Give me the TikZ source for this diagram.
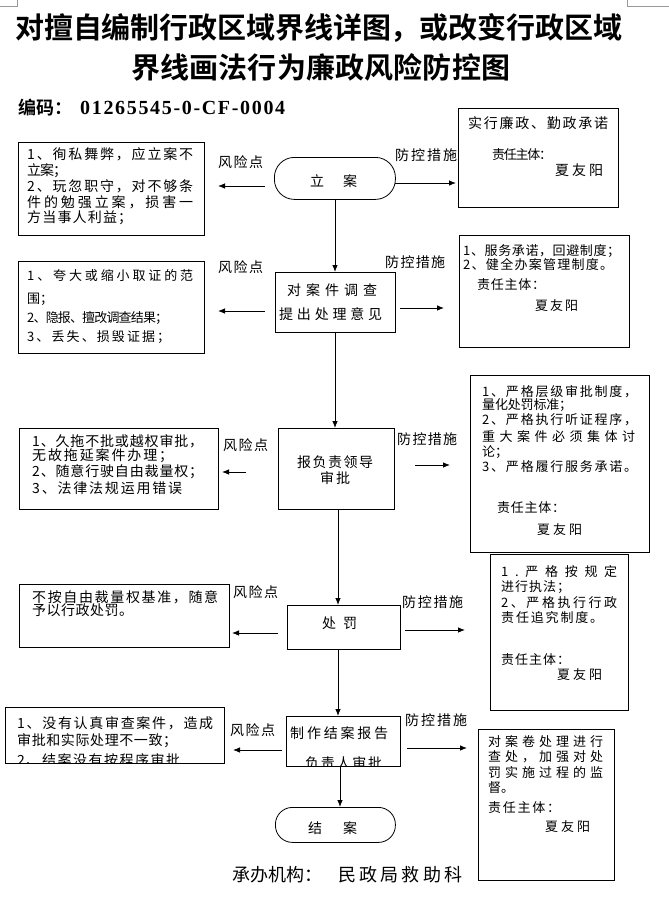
\documentclass[tikz,border=0pt]{standalone}
\usepackage{fontspec}
\setmainfont{Liberation Serif}
\newfontfamily\cjk{Noto Sans CJK SC}[BoldFont={Noto Sans CJK SC Bold}]
\usetikzlibrary{arrows.meta}
\def\jlsep{\hskip 0pt plus 1fil minus 1.5pt}
\def\jl#1{\ifx#1\relax\else\jlsep#1\expandafter\jl\fi}
\def\jlfirst#1{#1\jl}
\newcommand\jline[2]{\hbox to #1{\jlfirst#2\relax}}
\newcommand\tx[6][14]{\node[ln,font=\cjk\fontsize{#1}{#1}\selectfont] (#2) at (#3,#4) {\jline{#5pt}{#6}};}
\begin{document}
\begin{tikzpicture}[x=1pt,y=-1pt,
  bx/.style={draw,line width=0.8pt,inner sep=0pt,anchor=north west},
  ln/.style={inner sep=0pt,anchor=west},
  arr/.style={-{Latex[length=7pt,width=5.5pt]},line width=0.8pt},
  cornermark/.style={draw=black!40,line width=0.6pt}]
\useasboundingbox (0,0) rectangle (669,897);
\fill[white] (0,0) rectangle (669,897);
% page corner marks
\draw[cornermark] (0,6) -- (17,6) -- (17,0);
\draw[cornermark] (669,6) -- (627,6) -- (627,0);
% title
\node[ln,font=\cjk\bfseries\fontsize{29}{29}\selectfont] (title1) at (15,28) {\jline{607pt}{对擅自编制行政区域界线详图，或改变行政区域}};
\node[ln,font=\cjk\bfseries\fontsize{29}{29}\selectfont] (title2) at (131,67) {\jline{379pt}{界线画法行为廉政风险防控图}};
\node[ln,font=\cjk\bfseries\fontsize{18}{18}\selectfont] (code1) at (18,108) {编码：};
\node[ln,font=\bfseries\fontsize{20}{20}\selectfont] (code2) at (80,108) {\jline{205pt}{01265545-0-CF-0004}};
% boxes
\node[bx,minimum width=186pt,minimum height=93pt] (l1) at (18,142) {};
\node[bx,rounded corners=20pt,minimum width=121pt,minimum height=42pt] (c1) at (274,157) {};
\node[bx,minimum width=160pt,minimum height=99pt] (r1) at (458,108) {};
\node[bx,minimum width=186pt,minimum height=92pt] (l2) at (18,261) {};
\node[bx,minimum width=120pt,minimum height=60pt] (c2) at (275,272) {};
\node[bx,minimum width=170pt,minimum height=112pt] (r2) at (459,235) {};
\node[bx,minimum width=199pt,minimum height=81pt] (l3) at (19,428) {};
\node[bx,minimum width=116pt,minimum height=81pt] (c3) at (278,428) {};
\node[bx,minimum width=179pt,minimum height=177pt] (r3) at (470,375) {};
\node[bx,minimum width=210pt,minimum height=63pt] (l4) at (19,584) {};
\node[bx,minimum width=113pt,minimum height=44pt] (c4) at (287,605) {};
\node[bx,minimum width=138pt,minimum height=156pt] (r4) at (490,554) {};
\node[bx,minimum width=219pt,minimum height=56pt] (l5) at (5,707) {};
\node[bx,minimum width=114pt,minimum height=50pt] (c5) at (286,716) {};
\node[bx,minimum width=136pt,minimum height=151pt] (r5) at (478,729) {};
\node[bx,rounded corners=17pt,minimum width=120pt,minimum height=35pt] (c6) at (275,807) {};
% centre texts
\tx{c1a}{310}{181}{47}{立案}
\tx{c2a}{287}{290}{90}{对案件调查}
\tx{c2b}{279}{314}{103}{提出处理意见}
\tx{c3a}{297}{462}{76}{报负责领导}
\tx{c3b}{320}{478}{30}{审批}
\tx{c4a}{322}{623}{35}{处罚}
\tx{c5a}{290}{733}{98}{制作结案报告}
\begin{scope}
\clip (286.5,716.5) rectangle (399.5,765.5);
\tx{c5b}{305}{763}{77}{负责人审批}
\end{scope}
\tx{c6a}{308}{828}{49}{结案}
% L1
\tx{l1a}{27}{154}{166}{1、徇私舞弊，应立案不}
\tx{l1b}{27}{171}{40}{立案；}
\tx{l1c}{27}{186}{166}{2、玩忽职守，对不够条}
\tx{l1d}{27}{202}{166}{件的勉强立案，损害一}
\tx{l1e}{27}{218}{105}{方当事人利益；}
% R1
\tx{r1a}{468}{123}{140}{实行廉政、勤政承诺}
\tx[13]{r1b}{492}{155}{60}{责任主体：}
\tx{r1c}{555}{170}{48}{夏友阳}
% L2
\tx[13]{l2a}{27}{276}{166}{1、夸大或缩小取证的范}
\tx[13]{l2b}{27}{299}{26}{围；}
\tx[13]{l2c}{27}{318}{141}{2、隐报、擅改调查结果；}
\tx[13]{l2d}{27}{337}{143}{3、丢失、损毁证据；}
% R2
\tx[13]{r2a}{463}{251}{157}{1、服务承诺，回避制度；}
\tx[13]{r2b}{463}{265}{150}{2、健全办案管理制度。}
\tx[13]{r2c}{477}{285}{68}{责任主体：}
\tx[13]{r2d}{535}{306}{43}{夏友阳}
% L3
\tx{l3a}{32}{441}{171}{1、久拖不批或越权审批，}
\tx{l3b}{32}{456}{141}{无故拖延案件办理；}
\tx{l3c}{32}{472}{171}{2、随意行驶自由裁量权；}
\tx{l3d}{32}{488}{150}{3、法律法规运用错误}
% R3
\tx[13]{r3a}{482}{392}{155}{1、严格层级审批制度，}
\tx[13]{r3b}{482}{405}{90}{量化处罚标准；}
\tx[13]{r3c}{482}{420}{155}{2、严格执行听证程序，}
\tx[13]{r3d}{482}{437}{153}{重大案件必须集体讨}
\tx[13]{r3e}{482}{452}{26}{论；}
\tx[13]{r3f}{482}{467}{155}{3、严格履行服务承诺。}
\tx[13]{r3g}{497}{508}{68}{责任主体：}
\tx[13]{r3h}{537}{530}{45}{夏友阳}
% L4
\tx{l4a}{32}{597}{186}{不按自由裁量权基准，随意}
\tx{l4b}{32}{610}{101}{予以行政处罚。}
% R4
\tx[13]{r4a}{501}{572}{116}{1. 严格按规定}
\tx[13]{r4b}{501}{587}{69}{进行执法；}
\tx[13]{r4c}{501}{603}{116}{2、严格执行行政}
\tx[13]{r4d}{501}{618}{102}{责任追究制度。}
\tx[13]{r4e}{501}{660}{69}{责任主体：}
\tx[13]{r4f}{557}{675}{45}{夏友阳}
% L5
\tx{l5a}{17}{723}{196}{1、没有认真审查案件，造成}
\tx{l5b}{17}{741}{160}{审批和实际处理不一致；}
\begin{scope}
\clip (5.5,707.5) rectangle (223.5,762.5);
\tx{l5c}{17}{760}{163}{2、结案没有按程序审批}
\end{scope}
% R5
\tx[13]{r5a}{488}{742}{115}{对案卷处理进行}
\tx[13]{r5b}{488}{757}{115}{查处，加强对处}
\tx[13]{r5c}{488}{773}{115}{罚实施过程的监}
\tx[13]{r5d}{488}{788}{26}{督。}
\tx[13]{r5e}{488}{808}{72}{责任主体：}
\tx[13]{r5f}{545}{827}{45}{夏友阳}
% labels
\tx{k1}{218}{162}{45}{风险点}
\tx{k2}{218}{267}{45}{风险点}
\tx{k3}{223}{445}{45}{风险点}
\tx{k4}{233}{592}{45}{风险点}
\tx{k5}{230}{730}{45}{风险点}
\tx{m1}{395}{155}{62}{防控措施}
\tx{m2}{385}{262}{60}{防控措施}
\tx{m3}{397}{439}{60}{防控措施}
\tx{m4}{402}{602}{61}{防控措施}
\tx{m5}{405}{720}{62}{防控措施}
% footer
\tx[18]{f1}{232}{875}{90}{承办机构：}
\tx[18]{f2}{338}{875}{124}{民政局救助科}
% vertical connectors
\coordinate (vx1) at (335,0);
\coordinate (vx2) at (338,0);
\coordinate (vx3) at (340,0);
\draw[arr] (c1.south -| vx1) -- (c2.north -| vx1);
\draw[arr] (c2.south -| vx1) -- (c3.north -| vx1);
\draw[arr] (c3.south -| vx2) -- (c4.north -| vx2);
\draw[arr] (c4.south -| vx2) -- (c5.north -| vx2);
\draw[arr] (c5.south -| vx3) -- (c6.north -| vx3);
% horizontal connectors
\coordinate (a1s) at (265,186); \coordinate (a1e) at (218,186);
\coordinate (b1s) at (395,183); \coordinate (b1e) at (456,183);
\coordinate (a2s) at (265,311); \coordinate (a2e) at (218,311);
\coordinate (b2s) at (400,308); \coordinate (b2e) at (444,308);
\coordinate (a3s) at (246,472); \coordinate (a3e) at (222,472);
\coordinate (b3s) at (415,465); \coordinate (b3e) at (450,465);
\coordinate (a4s) at (278,633); \coordinate (a4e) at (232,633);
\coordinate (b4s) at (405,630); \coordinate (b4e) at (465,630);
\coordinate (a5s) at (282,750); \coordinate (a5e) at (233,750);
\coordinate (b5s) at (407,748); \coordinate (b5e) at (467,748);
\foreach \p in {a1,b1,a2,b2,a3,b3,a4,b4,a5,b5} {\draw[arr] (\p s) -- (\p e);}
\end{tikzpicture}
\end{document}
